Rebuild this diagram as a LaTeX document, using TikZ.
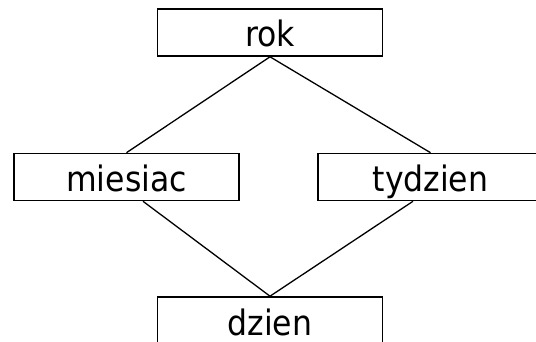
\documentclass[tikz,border=0pt]{standalone}
\usepackage{fontspec}
\setmainfont{DejaVu Sans Condensed}
\begin{document}
\begin{tikzpicture}[x=1pt,y=-1pt,
  unit/.style={draw, line width=1.6pt, rectangle, inner sep=0pt,
    minimum width=225pt, minimum height=47pt,
    text height=29pt, text depth=0pt, font=\fontsize{35}{40}\selectfont},
  link/.style={line width=1.3pt}]
  \path[use as bounding box, clip] (0,0) rectangle (536,342);
  \node[unit] (rok)     at (270,32.5)  {rok};
  \node[unit] (miesiac) at (126.5,177) {miesiac};
  \node[unit] (tydzien) at (430.5,177) {tydzien};
  \node[unit] (dzien)   at (270,320.5) {dzien};
  \draw[link] (rok.south) -- (miesiac.north);
  \draw[link] (rok.south) -- (tydzien.north);
  \draw[link] ([xshift=16.5pt]miesiac.south) -- (dzien.north);
  \draw[link] ([xshift=-17.5pt]tydzien.south) -- (dzien.north);
\end{tikzpicture}
\end{document}
